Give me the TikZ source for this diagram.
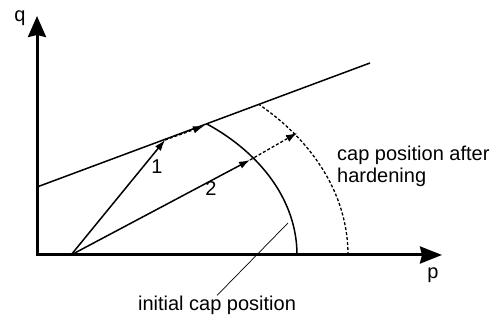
\documentclass[tikz,border=0pt]{standalone}
\usepackage{fontspec}
\setmainfont{Liberation Sans}
\usetikzlibrary{arrows.meta}
\tikzset{
  axis/.style={line width=3pt, line join=miter, {Stealth[length=21pt,width=18pt,inset=2pt]}-{Stealth[length=22pt,width=17pt,inset=2pt]}},
  yieldline/.style={line width=1.5pt},
  capline/.style={line width=1.5pt},
  hardcap/.style={line width=1.3pt, dash pattern=on 3pt off 2pt},
  loadpath/.style={line width=1.5pt, -{Latex[length=11pt,width=7.5pt]}},
  hardpath/.style={line width=1.3pt, dash pattern=on 3pt off 2pt, -{Latex[length=11pt,width=7.5pt]}},
  leader/.style={line width=0.7pt},
  lbl/.style={font=\fontsize{20}{22}\selectfont, inner sep=0pt},
}

\begin{document}
\begin{tikzpicture}[x=1pt,y=1pt]
\useasboundingbox (0,0) rectangle (496,320);
% axes
\coordinate (C) at (37,65);
\coordinate (qtip) at (37,304);
\coordinate (ptip) at (442,65);
\coordinate (O) at (71,65);
\draw[axis] (qtip) -- (C) -- (ptip);
\node[lbl] (qlab) at (20,302) {q};
\node[lbl] (plab) at (433,45) {p};
% failure line
\coordinate (L1) at (37,133);
\coordinate (L2) at (370,257);
\draw[yieldline] (L1) -- (L2);
% caps, cut off at the failure line
\begin{scope}
\clip (37,0) -- (L1) -- (L2) -- (496,257) -- (496,0) -- cycle;
\draw[capline] (297,65) arc[start angle=0, end angle=90, x radius=226, y radius=164];
\draw[hardcap] (348,65) arc[start angle=0, end angle=90, x radius=277, y radius=205];
\end{scope}
% stress paths
\coordinate (a1) at (165,180);
\coordinate (a1e) at (204,194);
\coordinate (a2) at (250,160);
\coordinate (a2e) at (297,187);
\draw[loadpath] (O) -- (a1);
\draw[hardpath] (a1) -- (a1e);
\draw[loadpath] (O) -- (a2);
\draw[hardpath] (a2) -- (a2e);
\node[lbl] (one) at (157,153) {1};
\node[lbl] (two) at (211,131) {2};
% labels
\node[lbl, anchor=west, align=left] (after) at (337,154) {cap position after\\hardening};
\node[lbl] (initcap) at (217,15) {initial cap position};
\coordinate (onarc) at (288,97);
\draw[leader] (onarc) -- (initcap.north);
\end{tikzpicture}
\end{document}
